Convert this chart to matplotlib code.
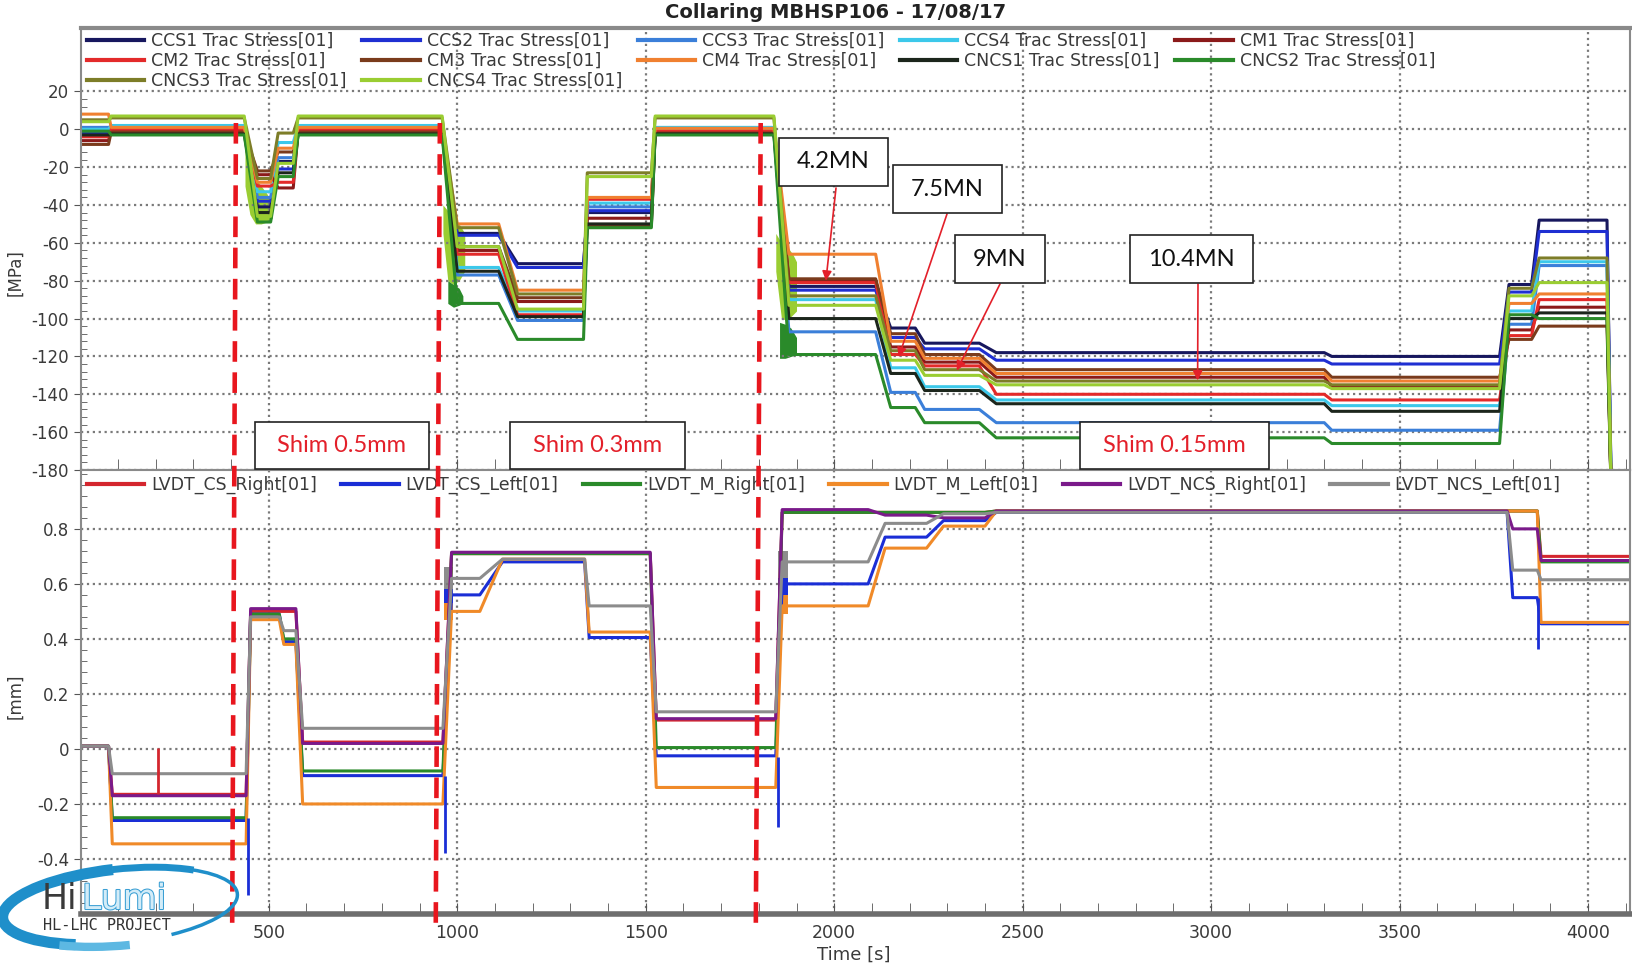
import matplotlib.pyplot as plt
import matplotlib.patheffects as pe
from matplotlib.lines import Line2D
from matplotlib.patches import Rectangle, Arc
from matplotlib.ticker import MultipleLocator, FixedLocator, FuncFormatter
import numpy as np

plt.rcParams['font.family'] = 'DejaVu Sans'
plt.rcParams['axes.unicode_minus'] = False

# ---------------- data: stress panel [MPa] ----------------
# (start, end) of each plateau, shared by all the stress gauges
stress_seg = [(0, 75), (82, 435), (470, 505), (525, 565), (578, 960),
              (1000, 1110), (1160, 1335), (1345, 1515), (1525, 1840),
              (1880, 2110), (2150, 2215), (2240, 2385), (2430, 3300),
              (3320, 3765), (3790, 3850), (3870, 4050), (4062, 4111)]

ccs1 = [0, -0.5, -41, -17, -0.5, -55, -71, -44, -1, -83, -105, -113, -118, -120, -82, -48, -200]
ccs2 = [-2, 0.5, -38, -21, 0.5, -56, -73, -43, -0.5, -85, -110, -116, -122, -124, -86, -54, -200]
ccs3 = [1, 1.5, -36, -15, 1.5, -77, -101, -41, 0, -107, -139, -148, -155, -159, -103, -72, -200]
ccs4 = [0, 2, -33, -7, 2, -73, -96, -39, 1, -90, -126, -136, -143, -146, -96, -70, -200]
cm1 = [-6, -1, -24, -31, -1, -64, -91, -47, -1.5, -80, -115, -123, -131, -136, -106, -94, -200]
cm2 = [-4, 0, -30, -28, 0, -66, -98, -37, -1, -81, -119, -125, -140, -143, -109, -90, -200]
cm3 = [-8, -1.5, -22, -12, -1.5, -62, -89, -51, -2, -79, -108, -119, -127, -131, -111, -104, -200]
cm4 = [8, 1, -28, -10, 1, -50, -85, -36, 0.5, -66, -112, -121, -129, -133, -92, -87, -200]
cncs1 = [-3, -2.5, -44, -23, -2.5, -75, -99, -50, -2.5, -100, -129, -138, -145, -149, -100, -97, -200]
cncs2 = [-1, -3, -49, -25, -3, -92, -111, -52, -3, -119, -147, -155, -163, -166, -98, -100, -200]
cncs3 = [5, 6, -26, -2, 6, -52, -87, -23, 6, -88, -117, -127, -133, -135, -84, -68, -200]
cncs4 = [4, 7, -46, -18, 7, -62, -95, -25, 7, -93, -122, -130, -135, -137, -88, -81, -200]

stress_names = ['CCS1', 'CCS2', 'CCS3', 'CCS4', 'CM1', 'CM2', 'CM3', 'CM4',
                'CNCS1', 'CNCS2', 'CNCS3', 'CNCS4']
stress_vals = [ccs1, ccs2, ccs3, ccs4, cm1, cm2, cm3, cm4, cncs1, cncs2, cncs3, cncs4]
stress_colors = ['#17175e', '#1f2fd2', '#3b7fd9', '#3cc8ea', '#8b1a1a', '#e32a2a',
                 '#7a3b1c', '#f08030', '#1c261c', '#2a8a2a', '#7d7d28', '#9acd32']

# noisy bursts during the load transients (time, low, high)
burst_t1 = [437, 450, 465, 480, 495, 510]
burst_lo1 = [-30, -45, -50, -50, -49, -47]
burst_hi1 = [-5, -20, -26, -30, -34, -40]
burst_t2 = [962, 975, 990, 1005, 1020]
burst_lo2 = [-55, -80, -82, -80, -75]
burst_hi2 = [-40, -43, -46, -50, -55]
burst_t3 = [1845, 1860, 1875, 1890, 1900]
burst_lo3 = [-75, -100, -101, -98, -96]
burst_hi3 = [-55, -60, -62, -66, -70]
# dark green part of the bursts
gburst_t2 = [975, 990, 1005, 1015]
gburst_lo2 = [-92, -94, -93, -92]
gburst_hi2 = [-80, -82, -84, -88]
gburst_t3 = [1855, 1870, 1885, 1900]
gburst_lo3 = [-121, -121, -120, -119]
gburst_hi3 = [-102, -103, -105, -110]

# ---------------- data: LVDT panel [mm] ----------------
lvdt_seg = [(0, 75), (85, 440), (452, 528), (540, 572), (590, 962),
            (985, 1060), (1120, 1338), (1350, 1512), (1528, 1845),
            (1862, 2090), (2135, 2245), (2290, 2400), (2430, 3785),
            (3800, 3865), (3875, 4111)]

cs_right = [0.01, -0.165, 0.50, 0.50, 0.025, 0.71, 0.71, 0.71, 0.105, 0.86, 0.86, 0.86, 0.865, 0.865, 0.70]
cs_left = [0.01, -0.26, 0.49, 0.39, -0.097, 0.56, 0.68, 0.405, -0.025, 0.60, 0.77, 0.83, 0.86, 0.55, 0.455]
m_right = [0.01, -0.25, 0.49, 0.40, -0.08, 0.71, 0.71, 0.71, 0.005, 0.86, 0.86, 0.86, 0.865, 0.865, 0.68]
m_left = [0.01, -0.345, 0.47, 0.38, -0.20, 0.50, 0.69, 0.425, -0.14, 0.52, 0.73, 0.81, 0.865, 0.865, 0.46]
ncs_right = [0.01, -0.17, 0.51, 0.51, 0.02, 0.715, 0.715, 0.715, 0.11, 0.87, 0.85, 0.84, 0.865, 0.80, 0.685]
ncs_left = [0.01, -0.09, 0.48, 0.43, 0.075, 0.62, 0.69, 0.52, 0.135, 0.68, 0.82, 0.855, 0.86, 0.65, 0.615]

lvdt_names = ['LVDT_CS_Right[01]', 'LVDT_CS_Left[01]', 'LVDT_M_Right[01]',
              'LVDT_M_Left[01]', 'LVDT_NCS_Right[01]', 'LVDT_NCS_Left[01]']
lvdt_vals = [cs_right, cs_left, m_right, m_left, ncs_right, ncs_left]
lvdt_colors = ['#d4262e', '#1a2ed6', '#2a8a2a', '#f08a28', '#7a1a8a', '#8c8c8c']

# spikes: (time, low, high)
red_spike_t = [207]
red_spike_lo = [-0.165]
red_spike_hi = [0.005]
blue_spike_t = [444, 968, 1850, 3868]
blue_spike_lo = [-0.53, -0.38, -0.285, 0.365]
blue_spike_hi = [-0.25, -0.10, -0.03, 0.55]

# bursts in the LVDT (gray, blue, orange)
lb_t1 = [965, 975, 990]
lb_t2 = [1850, 1862, 1878]
lb_gray = [(0.58, 0.66), (0.62, 0.72)]
lb_blue = [(0.53, 0.58), (0.55, 0.62)]
lb_orange = [(0.47, 0.53), (0.49, 0.56)]

# annotations
shim_top = [413, 954, 1805]
shim_bot = [403, 943, 1792]
force_labels = ['4.2MN', '7.5MN', '9MN', '10.4MN']
force_t = [1978, 2171, 2325, 2964]
force_v = [-80, -120.4, -127.5, -132.7]


def steps(seg, levels):
    t, v = [], []
    for (a, b), y in zip(seg, levels):
        t += [a, b]
        v += [y, y]
    return t, v


W, H = 1633, 969
fig = plt.figure(figsize=(W / 100, H / 100), dpi=100)
ax1 = fig.add_axes([81 / W, 1 - 470 / H, (1630 - 81) / W, (470 - 28) / H])
ax2 = fig.add_axes([81 / W, 1 - 914 / H, (1630 - 81) / W, (914 - 470) / H])

txt = '#3a3a3a'
fs_tick = 12
fs_leg = 12.5
grid_kw = dict(color='#7a7a7a', linestyle=':', linewidth=1.6)

# ---- top panel ----
handles = []
for name, vals, c in zip(stress_names, stress_vals, stress_colors):
    t, v = steps(stress_seg, vals)
    h, = ax1.plot(t, v, color=c, lw=2.2, label=name + ' Trac Stress[01]')
    handles.append(h)

ax1.fill_between(burst_t1, burst_lo1, burst_hi1, color=stress_colors[11], lw=0)
ax1.fill_between(burst_t2, burst_lo2, burst_hi2, color=stress_colors[11], lw=0)
ax1.fill_between(burst_t3, burst_lo3, burst_hi3, color=stress_colors[11], lw=0)
ax1.fill_between(gburst_t2, gburst_lo2, gburst_hi2, color=stress_colors[9], lw=0)
ax1.fill_between(gburst_t3, gburst_lo3, gburst_hi3, color=stress_colors[9], lw=0)

ax1.set_xlim(2, 4111)
ax1.set_ylim(-180, 53.5)
ax1.set_yticks(np.arange(-180, 21, 20))
ax1.yaxis.set_minor_locator(FixedLocator(np.arange(-180, 21, 4)))
ax1.xaxis.set_major_locator(MultipleLocator(500))
ax1.xaxis.set_minor_locator(MultipleLocator(100))
ax1.tick_params(axis='x', which='both', direction='in', length=8, labelbottom=False, color='#555')
ax1.tick_params(axis='y', which='major', direction='out', length=5, labelsize=fs_tick, labelcolor=txt, color='#555')
ax1.tick_params(axis='y', which='minor', direction='in', length=4, color='#555')
ax1.grid(True, which='major', **grid_kw)

# legend in row-major order with 5 columns
order = [0, 5, 10, 1, 6, 11, 2, 7, 3, 8, 4, 9]
leg1 = ax1.legend([handles[i] for i in order], [handles[i].get_label() for i in order],
                  ncol=5, loc='upper left', bbox_to_anchor=(0.0, 1.005), frameon=False,
                  fontsize=fs_leg, handlelength=3.3, handletextpad=0.4, columnspacing=0.9,
                  labelspacing=0.12, borderaxespad=0.2, borderpad=0.15)
for t_ in leg1.get_texts():
    t_.set_color(txt)
for l_ in leg1.get_lines():
    l_.set_linewidth(3)

# ---- bottom panel ----
handles2 = []
for name, vals, c in zip(lvdt_names, lvdt_vals, lvdt_colors):
    t, v = steps(lvdt_seg, vals)
    h, = ax2.plot(t, v, color=c, lw=2.2, label=name)
    handles2.append(h)

ax2.vlines(red_spike_t, red_spike_lo, red_spike_hi, color=lvdt_colors[0], lw=2)
ax2.vlines(blue_spike_t, blue_spike_lo, blue_spike_hi, color=lvdt_colors[1], lw=2)
for k, tt in enumerate([lb_t1, lb_t2]):
    for rng, c in zip([lb_gray[k], lb_blue[k], lb_orange[k]],
                      [lvdt_colors[5], lvdt_colors[1], lvdt_colors[3]]):
        ax2.fill_between(tt, [rng[0]] * len(tt), [rng[1]] * len(tt), color=c, lw=0)

ax2.set_xlim(2, 4111)
ax2.set_ylim(-0.6, 1.014)
ax2.set_yticks(np.arange(-0.4, 0.81, 0.2))
ax2.yaxis.set_major_formatter(FuncFormatter(lambda v, p: '0' if abs(v) < 1e-9 else '%g' % round(v, 2)))
ax2.yaxis.set_minor_locator(MultipleLocator(0.04))
ax2.xaxis.set_minor_locator(MultipleLocator(100))
ax2.set_xticks(np.arange(500, 4001, 500))
ax2.tick_params(axis='x', which='both', direction='in', length=8, labelsize=fs_tick + 0.5, labelcolor=txt,
                color='#555', pad=7)
ax2.tick_params(axis='y', which='major', direction='out', length=5, labelsize=fs_tick, labelcolor=txt, color='#555')
ax2.tick_params(axis='y', which='minor', direction='in', length=4, color='#555')
ax2.grid(True, which='major', **grid_kw)

leg2 = ax2.legend(handles=handles2, ncol=6, loc='upper left', bbox_to_anchor=(0.0, 1.0),
                  frameon=False, fontsize=fs_leg, handlelength=3.3, handletextpad=0.4,
                  columnspacing=1.4, borderaxespad=0.2, borderpad=0.15)
for t_ in leg2.get_texts():
    t_.set_color(txt)
for l_ in leg2.get_lines():
    l_.set_linewidth(3)

for ax in (ax1, ax2):
    for s in ax.spines.values():
        s.set_color('#8a8a8a')
        s.set_linewidth(1.5)
ax1.spines['top'].set_linewidth(3)
ax2.spines['bottom'].set_linewidth(4)
ax2.spines['bottom'].set_color('#6e6e6e')

# axis labels and title
fig.text(836 / W, 1 - 13 / H, 'Collaring MBHSP106 - 17/08/17', ha='center', va='center',
         fontsize=14, fontweight='bold', color='#222')
fig.text(15 / W, 1 - 273 / H, '[MPa]', rotation=90, ha='center', va='center', fontsize=12, color=txt)
fig.text(15 / W, 1 - 696 / H, '[mm]', rotation=90, ha='center', va='center', fontsize=12, color=txt)
fig.text(854 / W, 1 - 955 / H, 'Time [s]', ha='center', va='center', fontsize=13, color=txt)

# red dashed shim boundaries, running over both panels
to_fig = fig.transFigure.inverted()
for a, b in zip(shim_top, shim_bot):
    xa = to_fig.transform(ax1.transData.transform((a, 0)))[0]
    xb = to_fig.transform(ax2.transData.transform((b, 0)))[0]
    fig.add_artist(Line2D([xa, xb], [1 - 123 / H, 1 - 930 / H], color='#e8161e', lw=3.3,
                          dashes=(4.5, 2.3), zorder=5))


def box(x0, y0, x1, y1, text, color):
    fig.add_artist(Rectangle((x0 / W, 1 - y1 / H), (x1 - x0) / W, (y1 - y0) / H,
                             transform=fig.transFigure, facecolor='white',
                             edgecolor='#222', lw=1.2, zorder=6))
    fig.text((x0 + x1) / 2 / W, 1 - (y0 + y1) / 2 / H, text, ha='center', va='center',
             fontsize=17, family='Lato', color=color, zorder=7)


box(255, 422, 429, 469, 'Shim 0.5mm', '#e3202a')
box(510, 422, 685, 469, 'Shim 0.3mm', '#e3202a')
box(1080, 422, 1269, 469, 'Shim 0.15mm', '#e3202a')

force_boxes = [(779, 138, 888, 186), (893, 165, 1002, 213), (955, 235, 1045, 283), (1130, 235, 1253, 283)]
arrow_from = [(836, 188), (947, 214), (1000, 284), (1198, 284)]
for lab, bx, (fx, fy), t, v in zip(force_labels, force_boxes, arrow_from, force_t, force_v):
    ax1.annotate('', xy=(t, v), xycoords='data', xytext=(fx / W, 1 - fy / H),
                 textcoords='figure fraction', annotation_clip=False,
                 arrowprops=dict(arrowstyle='-|>', color='#e3202a', lw=1.2, mutation_scale=14,
                                 shrinkA=0, shrinkB=0))
    box(*bx, lab, '#111')

# HiLumi logo (drawn in pixel units, y up)
lg = fig.add_axes([0, 1 - 966 / H, 240 / W, 110 / H], zorder=8)
lg.set_xlim(0, 240)
lg.set_ylim(0, 110)
lg.axis('off')
lg.patch.set_alpha(0)
lg.add_patch(Arc((120, 60), 236, 74, angle=6, theta1=95, theta2=215, color='#1f8fca', lw=8))
lg.add_patch(Arc((120, 60), 236, 74, angle=6, theta1=20, theta2=96, color='#1f8fca', lw=5))
lg.add_patch(Arc((120, 60), 236, 74, angle=6, theta1=-35, theta2=21, color='#1f8fca', lw=2.5))
lg.add_patch(Arc((116, 52), 226, 64, angle=4, theta1=205, theta2=290, color='#5db8e2', lw=6))
lg.text(42, 67, 'Hi', fontsize=25, color='#3a3a3a', va='center', ha='left')
lg.text(82, 67, 'Lumi', fontsize=25, color='#d3ecf8', va='center', ha='left',
        path_effects=[pe.withStroke(linewidth=1.5, foreground='#3a9fd4')])
lg.text(43, 40, 'HL-LHC PROJECT', fontsize=11, color='#333', va='center', ha='left',
        family='DejaVu Sans Mono')

fig.savefig('out.png', dpi=100)
